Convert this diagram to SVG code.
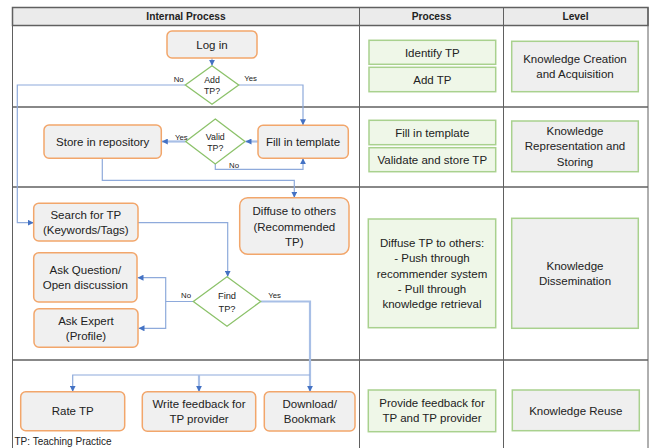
<svg xmlns="http://www.w3.org/2000/svg" width="649" height="448" viewBox="0 0 649 448">
<defs>
<style>
text{font-family:"Liberation Sans",Arial,sans-serif;fill:#222;}
.hd{font-size:10.2px;font-weight:bold;text-anchor:middle;}
.nt{font-size:11.5px;text-anchor:middle;}
.dt{font-size:8.8px;text-anchor:middle;}
.lb{font-size:7.8px;}
.node{fill:#f0f0f0;stroke:#f2a66b;stroke-width:1.5;}
.dia{fill:#ffffff;stroke:#8cc26a;stroke-width:1.3;}
.pbox{fill:#eff7e8;stroke:#a9d18e;stroke-width:1.5;}
.lbox{fill:#efefef;stroke:#a9d18e;stroke-width:1.5;}
.grid{stroke:#606060;stroke-width:1.5;fill:none;}
.vgrid{stroke:#606060;stroke-width:1;fill:none;}
.cn{fill:none;stroke:#8eaadb;stroke-width:1.2;}
.cnb{fill:none;stroke:#a8bfe6;stroke-width:2.2;}
</style>
<marker id="arr" markerWidth="6" markerHeight="6" refX="6" refY="3" orient="auto" markerUnits="userSpaceOnUse">
<path d="M0,0 L6,3 L0,6 z" fill="#4472c4"/>
</marker>
</defs>
<rect width="649" height="448" fill="#ffffff"/>
<g id="table">
<rect x="12.5" y="7.5" width="635.5" height="18" fill="#ebebeb" stroke="#606060" stroke-width="1.5"/>
<line class="vgrid" x1="12.5" y1="7.5" x2="12.5" y2="448"/>
<line class="vgrid" x1="359.5" y1="7.5" x2="359.5" y2="448"/>
<line class="vgrid" x1="503.5" y1="7.5" x2="503.5" y2="448"/>
<line class="vgrid" x1="648" y1="7.5" x2="648" y2="448"/>
<line class="grid" x1="12.5" y1="107" x2="648" y2="107"/>
<line class="grid" x1="12.5" y1="187" x2="648" y2="187"/>
<line class="grid" x1="12.5" y1="360" x2="648" y2="360"/>
<text class="hd" x="186" y="20">Internal Process</text>
<text class="hd" x="431.5" y="20">Process</text>
<text class="hd" x="575.5" y="20">Level</text>
</g>
<g id="connectors">
<path class="cn" d="M212,58 V65.7" marker-end="url(#arr)"/>
<path class="cn" d="M185.3,85 H17.3 V222.7 H33.7" marker-end="url(#arr)"/>
<path class="cn" d="M238.7,85 H303 V125.3" marker-end="url(#arr)"/>
<path class="cnb" d="M258,141.5 H245.5" marker-end="url(#arr)"/>
<path class="cnb" d="M185.7,141.5 H161.8" marker-end="url(#arr)"/>
<path class="cn" d="M215.3,164 V169.3 H303 V158.3" marker-end="url(#arr)"/>
<path class="cn" d="M102.3,158.3 V180.3 H294.3 V197.7" marker-end="url(#arr)"/>
<path class="cn" d="M138,222.7 H227.7 V276.7" marker-end="url(#arr)"/>
<path class="cn" d="M193.3,301.5 H165.7 V277.7 H137.5" marker-end="url(#arr)"/>
<path class="cn" d="M165.7,301.5 V328.3 H138.5" marker-end="url(#arr)"/>
<path class="cnb" d="M260.7,301.5 H310 V391.7" marker-end="url(#arr)"/>
<path class="cn" d="M310,375 H72.7 V391.7" marker-end="url(#arr)"/>
<path class="cnb" d="M199,375 V391.7" marker-end="url(#arr)"/>
<text class="lb" x="183.7" y="81.5" text-anchor="end">No</text>
<text class="lb" x="244.3" y="80.5">Yes</text>
<text class="lb" x="175" y="139.5">Yes</text>
<text class="lb" x="229" y="167.8">No</text>
<text class="lb" x="181" y="297.8">No</text>
<text class="lb" x="268.3" y="297.8">Yes</text>
</g>
<g id="login"><rect class="node" x="167" y="31" width="90" height="27" rx="5"/><text class="nt" x="212" y="49">Log in</text></g>
<g id="addtp"><polygon class="dia" points="212,65.7 238.7,85 212,104.3 185.3,85"/><text class="dt" x="212" y="83.2">Add</text><text class="dt" x="212" y="94">TP?</text></g>
<g id="fill"><rect class="node" x="258" y="125.3" width="90.3" height="33" rx="5"/><text class="nt" x="303" y="146">Fill in template</text></g>
<g id="valid"><polygon class="dia" points="215.3,119 245,141.5 215.3,164 185.7,141.5"/><text class="dt" x="215.3" y="139.5">Valid</text><text class="dt" x="215.3" y="151">TP?</text></g>
<g id="store"><rect class="node" x="44" y="125" width="117.3" height="33.3" rx="5"/><text class="nt" x="102.7" y="146">Store in repository</text></g>
<g id="diffuse"><rect class="node" x="239.7" y="197.7" width="109.3" height="56.6" rx="8"/><text class="nt" x="294.3" y="215">Diffuse to others</text><text class="nt" x="294.3" y="230.5">(Recommended</text><text class="nt" x="294.3" y="246">TP)</text></g>
<g id="search"><rect class="node" x="33.7" y="203.3" width="104.3" height="37.7" rx="5"/><text class="nt" x="85.8" y="219">Search for TP</text><text class="nt" x="85.8" y="234">(Keywords/Tags)</text></g>
<g id="findtp"><polygon class="dia" points="227,276.7 260.7,301.5 227,326.3 193.3,301.5"/><text class="dt" x="227" y="298.5" style="font-size:9.3px">Find</text><text class="dt" x="227" y="311.8" style="font-size:9.3px">TP?</text></g>
<g id="askq"><rect class="node" x="33.7" y="252.7" width="103.3" height="49.3" rx="5"/><text class="nt" x="85.3" y="274">Ask Question/</text><text class="nt" x="85.3" y="289">Open discussion</text></g>
<g id="aske"><rect class="node" x="34" y="308.7" width="104" height="38.6" rx="5"/><text class="nt" x="86" y="325">Ask Expert</text><text class="nt" x="86" y="340">(Profile)</text></g>
<g id="rate"><rect class="node" x="20.7" y="391.7" width="104" height="39" rx="5"/><text class="nt" x="72.7" y="415">Rate TP</text></g>
<g id="write"><rect class="node" x="142.3" y="391.7" width="113.4" height="39.6" rx="5"/><text class="nt" x="199" y="408">Write feedback for</text><text class="nt" x="199" y="423">TP provider</text></g>
<g id="download"><rect class="node" x="264.3" y="391.7" width="90.7" height="39.3" rx="5"/><text class="nt" x="309.7" y="408">Download/</text><text class="nt" x="309.7" y="423">Bookmark</text></g>
<g id="p-identify"><rect class="pbox" x="369" y="40.3" width="126.7" height="24"/><text class="nt" x="432.3" y="56.7">Identify TP</text></g>
<g id="p-add"><rect class="pbox" x="369" y="67.3" width="126.7" height="24.4"/><text class="nt" x="432.3" y="84">Add TP</text></g>
<g id="l-creation"><rect class="lbox" x="511.7" y="41.3" width="126.6" height="50.4"/><text class="nt" x="575" y="63">Knowledge Creation</text><text class="nt" x="575" y="78">and Acquisition</text></g>
<g id="p-fill"><rect class="pbox" x="369" y="120.3" width="126.7" height="24.4"/><text class="nt" x="432.3" y="136.7">Fill in template</text></g>
<g id="p-validate"><rect class="pbox" x="369" y="147.7" width="126.7" height="24"/><text class="nt" x="432.3" y="164">Validate and store TP</text></g>
<g id="l-repr"><rect class="lbox" x="511.7" y="121" width="126.6" height="50.7"/><text class="nt" x="575" y="135">Knowledge</text><text class="nt" x="575" y="150.3">Representation and</text><text class="nt" x="575" y="166">Storing</text></g>
<g id="p-diffuse"><rect class="pbox" x="368.3" y="219" width="127.4" height="108.7"/><text class="nt" x="432" y="246.7">Diffuse TP to others:</text><text class="nt" x="432" y="262">- Push through</text><text class="nt" x="432" y="277.7">recommender system</text><text class="nt" x="432" y="293">- Pull through</text><text class="nt" x="432" y="308">knowledge retrieval</text></g>
<g id="l-dissem"><rect class="lbox" x="511.7" y="218.3" width="126.6" height="110"/><text class="nt" x="575" y="270">Knowledge</text><text class="nt" x="575" y="285.3">Dissemination</text></g>
<g id="p-feedback"><rect class="pbox" x="368.3" y="390" width="127.4" height="41.7"/><text class="nt" x="432" y="407.3">Provide feedback for</text><text class="nt" x="432" y="422.3">TP and TP provider</text></g>
<g id="l-reuse"><rect class="lbox" x="512.3" y="390" width="127" height="40.7"/><text class="nt" x="575.8" y="414.7">Knowledge Reuse</text></g>
<text x="14.5" y="445" style="font-size:10px">TP: Teaching Practice</text>
</svg>
